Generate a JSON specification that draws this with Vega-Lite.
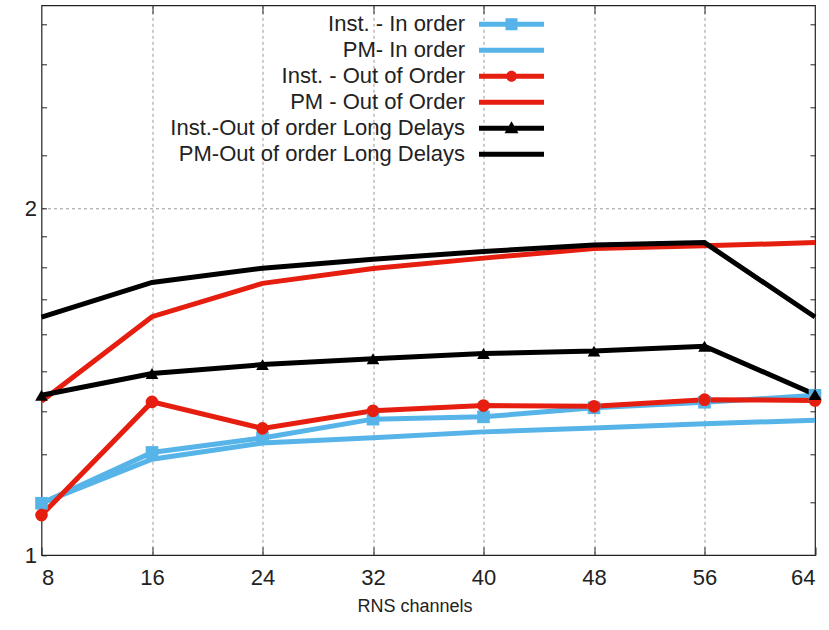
{
  "$schema": "https://vega.github.io/schema/vega-lite/v6.json",
  "width": 773.5,
  "height": 549.7,
  "autosize": {"type": "none"},
  "padding": {"left": 41.5, "top": 5.3, "right": 14, "bottom": 75},
  "config": {
    "font": "Liberation Sans",
    "view": {"stroke": "#222", "strokeWidth": 1.2},
    "axis": {"labelColor": "#222", "titleColor": "#222", "tickColor": "#222", "tickWidth": 1, "labelFont": "Liberation Sans", "titleFont": "Liberation Sans"},
    "legend": {
      "orient": "none", "legendX": 459, "legendY": 8, "padding": 0,
      "labelFontSize": 22, "labelColor": "#222", "labelFont": "Liberation Sans", "labelLimit": 0,
      "labelAlign": "right", "labelOffset": -57.5, "symbolSize": 400,
      "rowPadding": 4, "symbolStrokeWidth": 0, "symbolOpacity": 1
    }
  },
  "data": {"values": [
    {"series": "Inst. - In order", "x": 8, "y": 1.109},
    {"series": "Inst. - In order", "x": 16, "y": 1.2275},
    {"series": "Inst. - In order", "x": 24, "y": 1.2635},
    {"series": "Inst. - In order", "x": 32, "y": 1.312},
    {"series": "Inst. - In order", "x": 40, "y": 1.318},
    {"series": "Inst. - In order", "x": 48, "y": 1.342},
    {"series": "Inst. - In order", "x": 56, "y": 1.357},
    {"series": "Inst. - In order", "x": 64, "y": 1.376},
    {"series": "PM- In order", "x": 8, "y": 1.109},
    {"series": "PM- In order", "x": 16, "y": 1.211},
    {"series": "PM- In order", "x": 24, "y": 1.251},
    {"series": "PM- In order", "x": 32, "y": 1.264},
    {"series": "PM- In order", "x": 40, "y": 1.279},
    {"series": "PM- In order", "x": 48, "y": 1.289},
    {"series": "PM- In order", "x": 56, "y": 1.3},
    {"series": "PM- In order", "x": 64, "y": 1.309},
    {"series": "Inst. - Out of Order", "x": 8, "y": 1.083},
    {"series": "Inst. - Out of Order", "x": 16, "y": 1.358},
    {"series": "Inst. - Out of Order", "x": 24, "y": 1.288},
    {"series": "Inst. - Out of Order", "x": 32, "y": 1.334},
    {"series": "Inst. - Out of Order", "x": 40, "y": 1.348},
    {"series": "Inst. - Out of Order", "x": 48, "y": 1.346},
    {"series": "Inst. - Out of Order", "x": 56, "y": 1.364},
    {"series": "Inst. - Out of Order", "x": 64, "y": 1.362},
    {"series": "PM - Out of Order", "x": 8, "y": 1.36},
    {"series": "PM - Out of Order", "x": 16, "y": 1.61},
    {"series": "PM - Out of Order", "x": 24, "y": 1.721},
    {"series": "PM - Out of Order", "x": 32, "y": 1.773},
    {"series": "PM - Out of Order", "x": 40, "y": 1.81},
    {"series": "PM - Out of Order", "x": 48, "y": 1.845},
    {"series": "PM - Out of Order", "x": 56, "y": 1.855},
    {"series": "PM - Out of Order", "x": 64, "y": 1.867},
    {"series": "Inst.-Out of order Long Delays", "x": 8, "y": 1.376},
    {"series": "Inst.-Out of order Long Delays", "x": 16, "y": 1.437},
    {"series": "Inst.-Out of order Long Delays", "x": 24, "y": 1.463},
    {"series": "Inst.-Out of order Long Delays", "x": 32, "y": 1.48},
    {"series": "Inst.-Out of order Long Delays", "x": 40, "y": 1.496},
    {"series": "Inst.-Out of order Long Delays", "x": 48, "y": 1.503},
    {"series": "Inst.-Out of order Long Delays", "x": 56, "y": 1.518},
    {"series": "Inst.-Out of order Long Delays", "x": 64, "y": 1.378},
    {"series": "PM-Out of order Long Delays", "x": 8, "y": 1.609},
    {"series": "PM-Out of order Long Delays", "x": 16, "y": 1.724},
    {"series": "PM-Out of order Long Delays", "x": 24, "y": 1.774},
    {"series": "PM-Out of order Long Delays", "x": 32, "y": 1.806},
    {"series": "PM-Out of order Long Delays", "x": 40, "y": 1.834},
    {"series": "PM-Out of order Long Delays", "x": 48, "y": 1.858},
    {"series": "PM-Out of order Long Delays", "x": 56, "y": 1.867},
    {"series": "PM-Out of order Long Delays", "x": 64, "y": 1.609}
  ]},
  "resolve": {
    "axis": {"x": "independent", "y": "independent"},
    "scale": {"color": "independent", "shape": "independent"}
  },
  "layer": [
    {
      "mark": {"type": "line", "strokeWidth": 5, "clip": false},
      "encoding": {
        "x": {"field": "x", "type": "quantitative",
          "scale": {"domain": [8, 64], "nice": false, "zero": false},
          "axis": {"orient": "bottom", "values": [8, 16, 24, 32, 40, 48, 56, 64], "title": "RNS channels",
            "titleFontSize": 18, "titleFontWeight": "normal", "titlePadding": 9, "titleX": 373,
            "labelFontSize": 22, "labelPadding": 20, "tickSize": -8, "domain": false,
            "grid": true, "gridDash": [3, 3], "gridColor": "#999", "gridWidth": 1,
            "gridOpacity": {"condition": {"test": "datum.value == 8 || datum.value == 64", "value": 0}, "value": 1}}},
        "y": {"field": "y", "type": "quantitative",
          "scale": {"type": "log", "domain": [1, 3], "nice": false, "zero": false},
          "axis": {"orient": "left", "title": null,
            "values": [1, 1.1111, 1.2222, 1.3333, 1.4444, 1.5556, 1.6667, 1.7778, 1.8889, 2, 2.2222, 2.4444, 2.6667, 2.8889],
            "labelExpr": "(datum.value == 1 || datum.value == 2) ? format(datum.value, 'd') : ''",
            "labelFontSize": 22, "labelPadding": 10, "domain": false, "tickSize": -5,
            "grid": true, "gridDash": [3, 3], "gridColor": "#999", "gridWidth": 1,
            "gridOpacity": {"condition": {"test": "datum.value == 2", "value": 1}, "value": 0}}},
        "color": {"field": "series", "type": "nominal", "legend": null,
          "scale": {"domain": ["Inst. - In order", "PM- In order", "Inst. - Out of Order", "PM - Out of Order", "Inst.-Out of order Long Delays", "PM-Out of order Long Delays"],
            "range": ["#56B4E9", "#56B4E9", "#E51E10", "#E51E10", "#000000", "#000000"]}}
      }
    },
    {
      "transform": [{"filter": {"field": "series", "oneOf": ["Inst. - In order", "Inst. - Out of Order", "Inst.-Out of order Long Delays"]}}],
      "mark": {"type": "point", "filled": true, "opacity": 1, "size": 160, "clip": false},
      "encoding": {
        "x": {"field": "x", "type": "quantitative",
          "scale": {"domain": [8, 64], "nice": false, "zero": false},
          "axis": {"orient": "top", "values": [16, 24, 32, 40, 48, 56], "labels": false, "title": null, "tickSize": -8, "domain": false, "grid": false}},
        "y": {"field": "y", "type": "quantitative",
          "scale": {"type": "log", "domain": [1, 3], "nice": false, "zero": false},
          "axis": {"orient": "right", "title": null, "labels": false, "domain": false, "grid": false,
            "values": [1.1111, 1.2222, 1.3333, 1.4444, 1.5556, 1.6667, 1.7778, 1.8889, 2, 2.2222, 2.4444, 2.6667, 2.8889],
            "tickSize": -5}},
        "color": {"field": "series", "type": "nominal", "legend": null,
          "scale": {"domain": ["Inst. - In order", "Inst. - Out of Order", "Inst.-Out of order Long Delays"],
            "range": ["#56B4E9", "#E51E10", "#000000"]}},
        "shape": {"field": "series", "type": "nominal", "legend": null,
          "scale": {"domain": ["Inst. - In order", "Inst. - Out of Order", "Inst.-Out of order Long Delays"],
            "range": ["square", "circle", "triangle-up"]}}
      }
    },
    {
      "transform": [{"filter": {"field": "x", "lt": 0}}],
      "mark": {"type": "point", "filled": true, "opacity": 1},
      "encoding": {
        "x": {"field": "x", "type": "quantitative", "axis": null, "scale": {"domain": [8, 64], "nice": false, "zero": false}},
        "y": {"field": "y", "type": "quantitative", "axis": null, "scale": {"type": "log", "domain": [1, 3], "nice": false, "zero": false}},
        "color": {"field": "series", "type": "nominal", "title": null,
          "scale": {"domain": ["Inst. - In order", "PM- In order", "Inst. - Out of Order", "PM - Out of Order", "Inst.-Out of order Long Delays", "PM-Out of order Long Delays"],
            "range": ["#56B4E9", "#56B4E9", "#E51E10", "#E51E10", "#000000", "#000000"]}},
        "shape": {"field": "series", "type": "nominal", "title": null,
          "scale": {"domain": ["Inst. - In order", "PM- In order", "Inst. - Out of Order", "PM - Out of Order", "Inst.-Out of order Long Delays", "PM-Out of order Long Delays"],
            "range": [
              "M-3.25,-0.25H-0.6V-0.6H0.6V-0.25H3.25V0.25H0.6V0.6H-0.6V0.25H-3.25Z",
              "M-3.25,-0.25H3.25V0.25H-3.25Z",
              "M-3.25,-0.25H3.25V0.25H-3.25Z M0.55,0A0.55,0.55 0 1,1 -0.55,0A0.55,0.55 0 1,1 0.55,0Z",
              "M-3.25,-0.25H3.25V0.25H-3.25Z",
              "M-3.25,-0.25H3.25V0.25H-3.25Z M0,-0.7L0.7,0.5H-0.7Z",
              "M-3.25,-0.25H3.25V0.25H-3.25Z"
            ]}}
      }
    }
  ]
}
